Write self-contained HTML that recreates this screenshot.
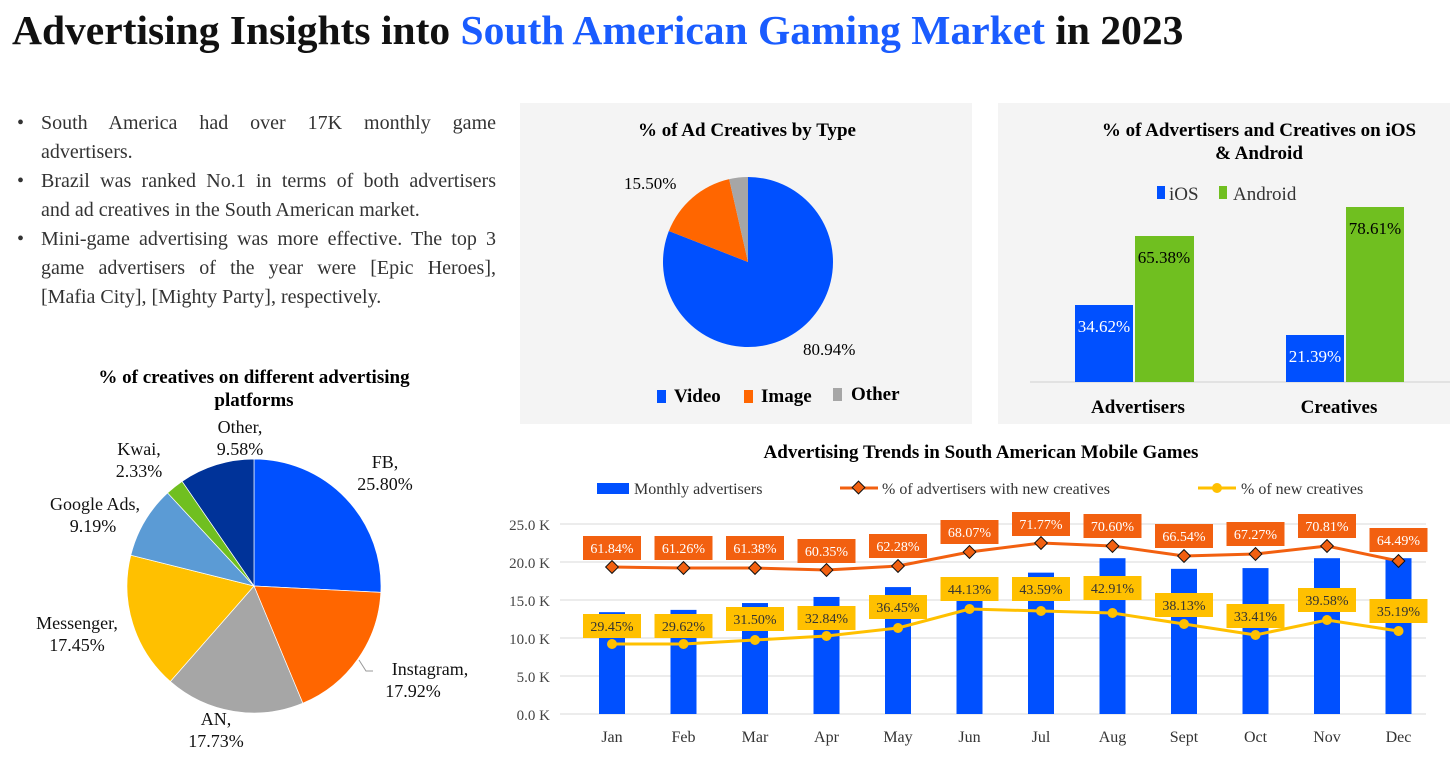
<!DOCTYPE html>
<html><head><meta charset="utf-8"><style>
html,body{margin:0;padding:0;background:#fff;}
body{width:1456px;height:759px;overflow:hidden;position:relative;font-family:"Liberation Serif",serif;}
.b{position:absolute;left:17px;font-size:20px;line-height:29px;color:#333;}
.b div{width:455px;padding-left:24px;position:relative;white-space:nowrap;}
.b .j{text-align:justify;text-align-last:justify;}
.b .d:before{content:"•";position:absolute;left:0;}
</style></head><body>
<div style="position:absolute;left:12px;top:6px;font-size:41.5px;font-weight:bold;color:#111;white-space:nowrap;">Advertising Insights into <span style="color:#1a5cff">South American Gaming Market</span> in 2023</div>
<div class="b" style="top:109px;">
<div class="j d">South America had over 17K monthly game</div>
<div>advertisers.</div>
<div class="j d">Brazil was ranked No.1 in terms of both advertisers</div>
<div>and ad creatives in the South American market.</div>
<div class="j d">Mini-game advertising was more effective. The top 3</div>
<div class="j">game advertisers of the year were [Epic Heroes],</div>
<div>[Mafia City], [Mighty Party], respectively.</div>
</div>
<svg id="s" width="1456" height="759" style="position:absolute;left:0;top:0" font-family="Liberation Serif, serif">
<rect x="520" y="103" width="452" height="321" fill="#f4f4f4"/>
<rect x="998" y="103" width="452" height="321" fill="#f4f4f4"/>
<g id="p1"></g><g id="p2"></g>
<text x="747" y="136" font-size="19" font-weight="bold" text-anchor="middle">% of Ad Creatives by Type</text>
<text x="624" y="189" font-size="17">15.50%</text>
<text x="803" y="355" font-size="17">80.94%</text>
<rect x="657" y="390" width="9" height="13" fill="#0050ff"/><text x="674" y="402" font-size="19" font-weight="bold">Video</text>
<rect x="744" y="390" width="9" height="13" fill="#ff6600"/><text x="761" y="402" font-size="19" font-weight="bold">Image</text>
<rect x="833" y="388" width="9" height="13" fill="#a6a6a6"/><text x="851" y="400" font-size="19" font-weight="bold">Other</text>
<text x="1259" y="136" font-size="19" font-weight="bold" text-anchor="middle">% of Advertisers and Creatives on iOS</text>
<text x="1259" y="159" font-size="19" font-weight="bold" text-anchor="middle">&amp; Android</text>
<rect x="1157" y="186" width="8" height="13" fill="#0050ff"/><text x="1169" y="200" font-size="19" fill="#333">iOS</text>
<rect x="1219" y="186" width="8" height="13" fill="#70bf20"/><text x="1233" y="200" font-size="19" fill="#333">Android</text>
<line x1="1030" y1="382" x2="1450" y2="382" stroke="#d0d0d0"/>
<rect x="1075" y="305" width="58" height="77" fill="#0050ff"/><rect x="1135" y="236" width="59" height="146" fill="#70bf20"/>
<rect x="1286" y="335" width="58" height="47" fill="#0050ff"/><rect x="1346" y="207" width="58" height="175" fill="#70bf20"/>
<text x="1104" y="332" font-size="17" fill="#fff" text-anchor="middle">34.62%</text>
<text x="1164" y="263" font-size="17" text-anchor="middle">65.38%</text>
<text x="1315" y="362" font-size="17" fill="#fff" text-anchor="middle">21.39%</text>
<text x="1375" y="234" font-size="17" text-anchor="middle">78.61%</text>
<text x="1138" y="413" font-size="19" font-weight="bold" text-anchor="middle">Advertisers</text>
<text x="1339" y="413" font-size="19" font-weight="bold" text-anchor="middle">Creatives</text>
<text x="254" y="383" font-size="19" font-weight="bold" text-anchor="middle">% of creatives on different advertising</text>
<text x="254" y="406" font-size="19" font-weight="bold" text-anchor="middle">platforms</text>
<g font-size="18" text-anchor="middle" fill="#111">
<text x="240" y="433">Other,</text><text x="240" y="455">9.58%</text>
<text x="139" y="455">Kwai,</text><text x="139" y="477">2.33%</text>
<text x="385" y="468">FB,</text><text x="385" y="490">25.80%</text>
<text x="95" y="510">Google Ads,</text><text x="93" y="532">9.19%</text>
<text x="77" y="629">Messenger,</text><text x="77" y="651">17.45%</text>
<text x="430" y="675">Instagram,</text><text x="413" y="697">17.92%</text>
<text x="216" y="725">AN,</text><text x="216" y="747">17.73%</text>
</g>
<polyline points="359,660 366,671 373,671" fill="none" stroke="#999"/>
<text x="981" y="458" font-size="19" font-weight="bold" text-anchor="middle">Advertising Trends in South American Mobile Games</text>
<rect x="597" y="483" width="32" height="11" fill="#0050ff"/><text x="634" y="494" font-size="16" fill="#333">Monthly advertisers</text>
<line x1="840" y1="488" x2="878" y2="488" stroke="#f26010" stroke-width="3"/><rect x="854" y="483" width="9" height="9" fill="#f26010" stroke="#111" transform="rotate(45 858.5 487.5)"/><text x="882" y="494" font-size="16" fill="#333">% of advertisers with new creatives</text>
<line x1="1198" y1="488" x2="1236" y2="488" stroke="#ffc000" stroke-width="3"/><circle cx="1217" cy="488" r="5" fill="#ffc000"/><text x="1241" y="494" font-size="16" fill="#333">% of new creatives</text>
<g id="bc"></g>
</svg>
<script>
var NS="http://www.w3.org/2000/svg";
function el(p,t,a,txt){var e=document.createElementNS(NS,t);for(var k in a)e.setAttribute(k,a[k]);if(txt!=null)e.textContent=txt;p.appendChild(e);return e;}
function pie(g,cx,cy,r,vals,cols){var a=0,tot=vals.reduce(function(x,y){return x+y},0);
vals.forEach(function(v,i){var a2=a+v/tot*2*Math.PI;var x1=cx+r*Math.sin(a),y1=cy-r*Math.cos(a),x2=cx+r*Math.sin(a2),y2=cy-r*Math.cos(a2);
el(g,"path",{d:"M"+cx+","+cy+"L"+x1+","+y1+"A"+r+","+r+" 0 "+((a2-a)>Math.PI?1:0)+" 1 "+x2+","+y2+"Z",fill:cols[i],stroke:cols.length>3?"#fff":"none","stroke-width":0.7});a=a2;});}
pie(document.getElementById("p1"),748,262,85,[80.94,15.5,3.56],["#0050ff","#ff6600","#a6a6a6"]);
pie(document.getElementById("p2"),254,586,127,[25.80,17.92,17.73,17.45,9.19,2.33,9.58],["#0050ff","#ff6600","#a6a6a6","#ffc000","#5b9bd5","#70bf20","#003399"]);
var g=document.getElementById("bc");
for(var i=0;i<=5;i++){var y=714-i*38;el(g,"line",{x1:560,y1:y,x2:1426,y2:y,stroke:"#d9d9d9"});el(g,"text",{x:550,y:y+6,"font-size":15,"text-anchor":"end",fill:"#444"},(i*5)+".0 K");}
var m=["Jan","Feb","Mar","Apr","May","Jun","Jul","Aug","Sept","Oct","Nov","Dec"];
var bars=[13.4,13.7,14.6,15.4,16.7,17.9,18.6,20.5,19.1,19.2,20.5,20.5];
var oy=[567,568,568,570,566,552,543,546,556,554,546,561],oly=[548,548,548,551,546,532,524,526,536,534,526,540];
var ol=["61.84%","61.26%","61.38%","60.35%","62.28%","68.07%","71.77%","70.60%","66.54%","67.27%","70.81%","64.49%"];
var yy=[644,644,640,636,628,609,611,613,624,635,620,631],yly=[626,626,619,618,607,589,589,588,605,616,600,611];
var yl=["29.45%","29.62%","31.50%","32.84%","36.45%","44.13%","43.59%","42.91%","38.13%","33.41%","39.58%","35.19%"];
function X(i){return 612+i*71.5;}
m.forEach(function(t,i){var x=X(i),h=bars[i]*7.6;el(g,"rect",{x:x-13,y:714-h,width:26,height:h,fill:"#0050ff"});el(g,"text",{x:x,y:742,"font-size":16,"text-anchor":"middle",fill:"#333"},t);});
el(g,"polyline",{points:m.map(function(_,i){return X(i)+","+oy[i]}).join(" "),fill:"none",stroke:"#f26010","stroke-width":3});
el(g,"polyline",{points:m.map(function(_,i){return X(i)+","+yy[i]}).join(" "),fill:"none",stroke:"#ffc000","stroke-width":3});
m.forEach(function(_,i){var x=X(i);
el(g,"rect",{x:x-4.5,y:oy[i]-4.5,width:9,height:9,fill:"#f26010",stroke:"#111",transform:"rotate(45 "+x+" "+oy[i]+")"});
el(g,"circle",{cx:x,cy:yy[i],r:5,fill:"#ffc000"});
el(g,"rect",{x:x-29,y:oly[i]-12,width:58,height:24,fill:"#f26010"});
el(g,"text",{x:x,y:oly[i]+5,"font-size":14,"text-anchor":"middle",fill:"#fff"},ol[i]);
el(g,"rect",{x:x-29,y:yly[i]-12,width:58,height:24,fill:"#ffc000"});
el(g,"text",{x:x,y:yly[i]+5,"font-size":14,"text-anchor":"middle",fill:"#333"},yl[i]);});
</script>
</body></html>
